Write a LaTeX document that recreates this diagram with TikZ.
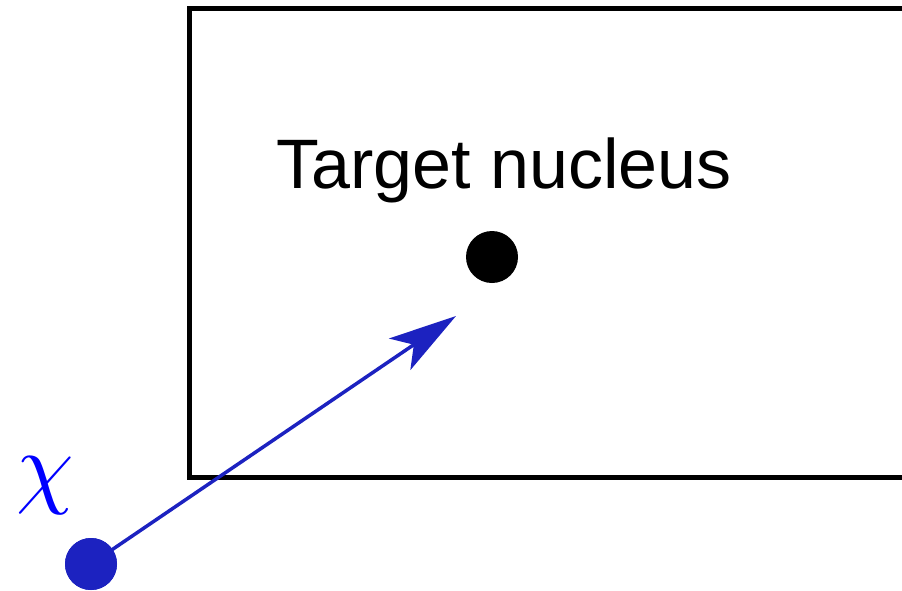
\documentclass[tikz,border=0pt]{standalone}
\usepackage{fontspec}
\setmainfont{Liberation Sans}
\usetikzlibrary{arrows.meta}
\definecolor{dmblue}{HTML}{1C22C0}
\begin{document}
\begin{tikzpicture}[x=1pt,y=-1pt,
  box/.style={line width=5pt,black},
  dot/.style={circle,inner sep=0pt,minimum size=52pt},
  beam/.style={line width=3.5pt,dmblue,-{Stealth[length=68pt,width=38pt,inset=17pt]}}]
\useasboundingbox (0,0) rectangle (902,590);
\draw[box] (910,8.5) -- (189,8.5) -- (189,477) -- (910,477);
\node[font=\fontsize{70}{84}\selectfont, anchor=base] (label) at (504,188) {Target nucleus};
\node[dot,fill=black] (nuc) at (492,257) {};
\coordinate (tip) at (456,316);
\node[dot,fill=dmblue] (chi) at (91,564) {};
\draw[beam] (chi.center) -- (tip);
\node[dot,fill=dmblue] at (chi) {};
\node[text=blue,scale=9.2,inner sep=0pt] (chilabel) at (45,486) {$\chi$};
\end{tikzpicture}
\end{document}
